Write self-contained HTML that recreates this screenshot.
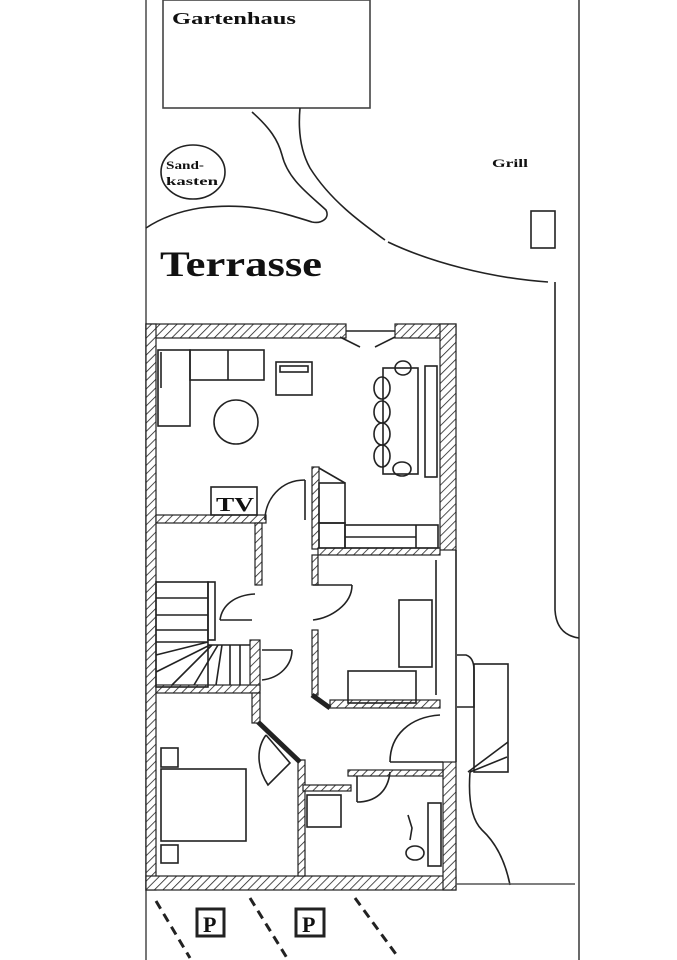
<!DOCTYPE html>
<html><head><meta charset="utf-8"><style>
html,body{margin:0;padding:0;background:#fff}
svg{display:block}
text{font-family:"Liberation Serif",serif;font-weight:bold;fill:#111}
</style></head><body>
<svg width="677" height="960" viewBox="0 0 677 960" xmlns="http://www.w3.org/2000/svg">
<defs>
<pattern id="h" width="6" height="6" patternUnits="userSpaceOnUse" patternTransform="rotate(45)">
<rect width="6" height="6" fill="#fff"/><line x1="0" y1="0" x2="0" y2="6" stroke="#222" stroke-width="1.6"/>
</pattern>
</defs>
<g fill="none" stroke="#222" stroke-width="1.6">
<line x1="146" y1="0" x2="146" y2="960" stroke="#555"/>
<line x1="579" y1="0" x2="579" y2="960" stroke="#444"/>
<rect x="163" y="0" width="207" height="108" stroke="#444"/>
<path d="M252,112 C270,128 278,140 282,155 C288,180 310,195 326,210 C330,218 322,224 312,222 C280,212 250,202 200,208 C175,212 158,220 146,228"/>
<path d="M300,108 C298,130 300,150 310,168 C330,200 360,222 385,240"/>
<path d="M388,242 C430,262 490,278 548,282"/>
<ellipse cx="193" cy="172" rx="32" ry="27"/>
<rect x="531" y="211" width="24" height="37"/>
<path d="M555,282 L555,610 C556,628 565,636 579,638"/>
<g fill="url(#h)" stroke="#222" stroke-width="1.2">
<rect x="146" y="324" width="200" height="14"/>
<rect x="395" y="324" width="61" height="14"/>
<rect x="146" y="324" width="10" height="566"/>
<rect x="146" y="876" width="310" height="14"/>
<rect x="440" y="324" width="16" height="226"/>
<rect x="443" y="762" width="13" height="128"/>
<rect x="156" y="515" width="110" height="8"/>
<rect x="312" y="467" width="7" height="82"/>
<rect x="318" y="548" width="122" height="7"/>
<rect x="255" y="523" width="7" height="62"/>
<rect x="250" y="640" width="10" height="50"/>
<rect x="156" y="685" width="104" height="8"/>
<rect x="252" y="693" width="8" height="30"/>
<rect x="312" y="555" width="6" height="30"/>
<rect x="312" y="630" width="6" height="65"/>
<rect x="330" y="700" width="110" height="8"/>
<rect x="298" y="760" width="7" height="116"/>
<rect x="303" y="785" width="48" height="6"/>
<rect x="348" y="770" width="95" height="6"/>
</g>
<path d="M312,695 L330,708" stroke-width="5"/>
<path d="M258,722 L300,762" stroke-width="5"/>
<line x1="346" y1="331" x2="395" y2="331"/>
<line x1="340" y1="337" x2="360" y2="347"/><line x1="375" y1="347" x2="395" y2="337"/>
<line x1="456" y1="550" x2="456" y2="762"/>
<rect x="158" y="350" width="32" height="76"/>
<rect x="190" y="350" width="74" height="30"/>
<line x1="228" y1="350" x2="228" y2="380"/>
<line x1="161" y1="352" x2="161" y2="388"/>
<rect x="276" y="362" width="36" height="33"/>
<rect x="280" y="366" width="28" height="6"/>
<circle cx="236" cy="422" r="22"/>
<rect x="383" y="368" width="35" height="106"/>
<ellipse cx="403" cy="368" rx="8" ry="7"/><ellipse cx="402" cy="469" rx="9" ry="7"/>
<ellipse cx="382" cy="388" rx="8" ry="11"/><ellipse cx="382" cy="412" rx="8" ry="11"/>
<ellipse cx="382" cy="434" rx="8" ry="11"/><ellipse cx="382" cy="456" rx="8" ry="11"/>
<rect x="425" y="366" width="12" height="111"/>
<rect x="211" y="487" width="46" height="28"/>
<path d="M265,520 C265,500 280,480 305,480"/>
<line x1="305" y1="480" x2="305" y2="520"/>
<rect x="319" y="483" width="26" height="40"/>
<path d="M319,468 L345,483"/>
<rect x="319" y="523" width="26" height="25"/>
<rect x="345" y="525" width="93" height="23"/>
<line x1="345" y1="537" x2="416" y2="537"/><line x1="416" y1="525" x2="416" y2="548"/>
<rect x="156" y="582" width="52" height="105"/>
<rect x="208" y="582" width="7" height="58"/>
<line x1="156" y1="598" x2="208" y2="598"/><line x1="156" y1="615" x2="208" y2="615"/>
<line x1="156" y1="630" x2="208" y2="630"/><line x1="156" y1="642" x2="208" y2="642"/>
<line x1="208" y1="645" x2="250" y2="645"/>
<line x1="156" y1="655" x2="208" y2="642"/><line x1="156" y1="672" x2="210" y2="645"/>
<line x1="172" y1="685" x2="212" y2="645"/><line x1="194" y1="685" x2="218" y2="645"/>
<line x1="216" y1="685" x2="222" y2="645"/><line x1="230" y1="685" x2="230" y2="645"/><line x1="240" y1="685" x2="240" y2="645"/>
<path d="M220,620 C222,605 235,595 255,594"/><line x1="220" y1="620" x2="252" y2="620"/>
<path d="M262,680 C280,678 292,665 292,650"/><line x1="262" y1="650" x2="292" y2="650"/>
<path d="M313,620 C330,618 352,605 352,585"/><line x1="313" y1="585" x2="352" y2="585"/>
<rect x="399" y="600" width="33" height="67"/>
<rect x="348" y="671" width="68" height="32"/>
<line x1="436" y1="560" x2="436" y2="695"/>
<path d="M390,762 C390,735 410,717 440,715"/><line x1="390" y1="762" x2="443" y2="762"/>
<path d="M266,735 L290,763 L268,785 C258,770 255,750 266,735"/>
<rect x="161" y="769" width="85" height="72"/>
<rect x="161" y="748" width="17" height="19"/>
<rect x="161" y="845" width="17" height="18"/>
<rect x="307" y="795" width="34" height="32"/>
<path d="M357,802 C375,802 388,792 390,772"/><line x1="357" y1="776" x2="357" y2="802"/>
<rect x="428" y="803" width="13" height="63"/>
<ellipse cx="415" cy="853" rx="9" ry="7"/>
<path d="M408,815 L412,828 L410,840"/>
<path d="M457,655 L466,655 C472,657 474,663 474,670 L474,707 L457,707"/>
<rect x="474" y="664" width="34" height="108"/>
<path d="M468,772 L508,742 M470,772 L507,757"/>
<path d="M470,772 C468,800 472,820 482,830 C495,842 505,860 510,885"/>
<line x1="456" y1="884" x2="575" y2="884" stroke="#555"/>
<g stroke-width="3" stroke-dasharray="9,6">
<line x1="156" y1="901" x2="190" y2="958"/>
<line x1="250" y1="898" x2="287" y2="958"/>
<line x1="355" y1="898" x2="398" y2="957"/>
</g>
<rect x="197" y="909" width="27" height="27" stroke-width="3"/>
<rect x="296" y="909" width="28" height="27" stroke-width="3"/>
</g>
<text x="172" y="24" font-size="17" textLength="124" lengthAdjust="spacingAndGlyphs">Gartenhaus</text>
<text x="166" y="169" font-size="12" textLength="38" lengthAdjust="spacingAndGlyphs">Sand-</text>
<text x="166" y="185" font-size="12" textLength="52" lengthAdjust="spacingAndGlyphs">kasten</text>
<text x="492" y="167" font-size="12" textLength="36" lengthAdjust="spacingAndGlyphs">Grill</text>
<text x="160" y="276" font-size="36" textLength="162" lengthAdjust="spacingAndGlyphs">Terrasse</text>
<text x="216" y="511" font-size="20" font-weight="normal" textLength="38" lengthAdjust="spacingAndGlyphs">TV</text>
<text x="203" y="932" font-size="22" font-weight="normal">P</text>
<text x="302" y="932" font-size="22" font-weight="normal">P</text>
</svg>
</body></html>
